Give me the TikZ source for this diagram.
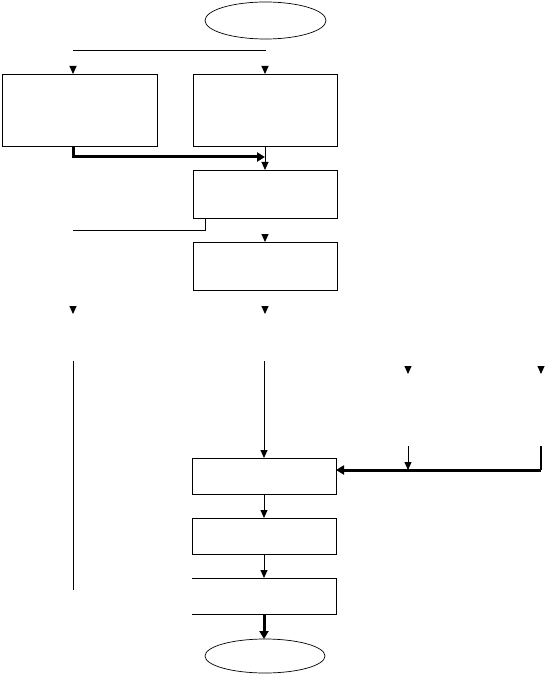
\documentclass[tikz,border=0pt]{standalone}
\usetikzlibrary{arrows.meta,shapes.geometric}

\begin{document}
\begin{tikzpicture}[x=1pt,y=-1pt,
  box/.style={draw, line width=0.9pt, minimum width=144pt, minimum height=48pt, inner sep=0pt, outer sep=0pt},
  oval/.style={ellipse, draw, line width=0.7pt, minimum width=121pt, minimum height=37pt, inner sep=0pt, outer sep=0pt},
  wire/.style={line width=0.9pt},
  link/.style={line width=0.9pt, -{Triangle[width=7pt,length=8pt]}},
  stub/.style={line width=0.9pt, -{Triangle[width=7pt,length=8pt]}},
  heavy/.style={line width=3pt, -{Triangle[width=9pt,length=8pt]}}]
\useasboundingbox (0,0) rectangle (547,676);
% terminals and boxes
\node[oval] (start) at (265.5,20.5) {};
\node[box, minimum width=155pt, minimum height=72pt] (A) at (79.5,110) {};
\node[box, minimum height=72pt] (B) at (265,110) {};
\node[box] (C) at (265,194) {};
\node[box] (D) at (265,266) {};
\node[box, minimum height=36pt] (E) at (264,476) {};
\node[box, minimum height=36pt] (F) at (264,536) {};
\node[box, minimum height=36pt, draw=none] (G) at (264,596) {};
\node[oval, minimum width=120pt, minimum height=34pt] (stop) at (265,656) {};
% loose ends
\coordinate (splitL) at (73,50);
\coordinate (splitR) at (266,50);
\coordinate (joinB) at (265,157);
\coordinate (backL) at (73,230);
\coordinate (tipL) at (73,314);
\coordinate (tipM) at (265,314);
\coordinate (railLtop) at (73,361);
\coordinate (railLbot) at (73,590);
\coordinate (railM) at (264,361);
\coordinate (tipP) at (408,374);
\coordinate (tipQ) at (541,374);
\coordinate (inP) at (408,446);
\coordinate (inQ) at (541,446);
\coordinate (mergeP) at (408,470);
\coordinate (mergeQ) at (541,470);
% connectors
\draw[wire] (splitL) -- (splitR);
\draw[stub] ([yshift=8pt]splitL |- A.north) -- (splitL |- A.north);
\draw[stub] ([yshift=8pt]B.north) -- (B.north);
\draw[heavy] (splitL |- A.south) |- (joinB);
\draw[link] (B) -- (C);
\draw[wire] ([xshift=12pt]C.south west) |- (backL);
\draw[stub] ([yshift=8pt]D.north) -- (D.north);
\draw[stub] ([yshift=8pt]tipL) -- (tipL);
\draw[stub] ([yshift=8pt]tipM) -- (tipM);
\draw[wire] (railLtop) -- (railLbot);
\draw[link] (railM) -- (E.north);
\draw[stub] ([yshift=8pt]tipP) -- (tipP);
\draw[stub] ([yshift=8pt]tipQ) -- (tipQ);
\draw[link] (inP) -- (mergeP);
\draw[line width=1.2pt] (inQ) -- (mergeQ);
\draw[heavy] (mergeQ) -- (E.east |- mergeQ);
\draw[link] (E) -- (F);
\draw[link] (F) -- (G);
\draw[wire] (G.north west) -- (G.north east) -- (G.south east) -- (G.south west);
\draw[heavy] (G.south) -- (G.south |- stop.north);
\end{tikzpicture}
\end{document}
